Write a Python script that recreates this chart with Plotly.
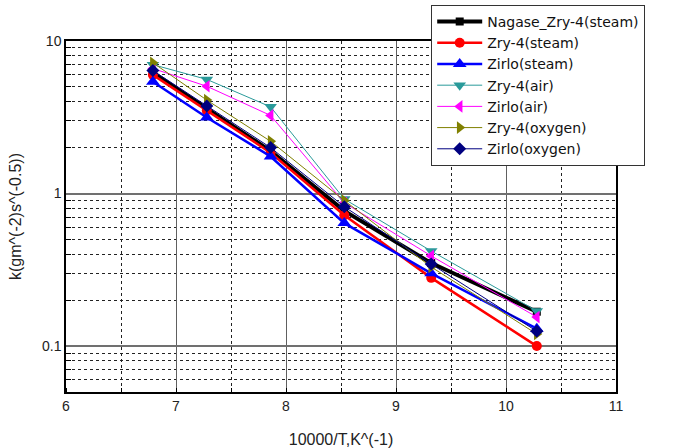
import plotly.graph_objects as go

# 10000/T values
x_vals = [6.79, 7.28, 7.86, 8.53, 9.32, 10.28]

nagase_zry4_steam = [6.2, 3.6, 1.9, 0.77, 0.35, 0.168]
zry4_steam = [6.0, 3.5, 1.85, 0.72, 0.28, 0.10]
zirlo_steam = [5.4, 3.15, 1.75, 0.64, 0.30, 0.13]
zry4_air = [7.0, 5.6, 3.7, 0.92, 0.42, 0.17]
zirlo_air = [6.6, 5.05, 3.25, 0.87, 0.39, 0.155]
zry4_oxygen = [7.2, 4.1, 2.2, 0.90, 0.33, 0.12]
zirlo_oxygen = [6.4, 3.75, 2.0, 0.82, 0.345, 0.125]

series_names = ["Nagase_Zry-4(steam)", "Zry-4(steam)", "Zirlo(steam)", "Zry-4(air)",
                "Zirlo(air)", "Zry-4(oxygen)", "Zirlo(oxygen)"]
series_vals = [nagase_zry4_steam, zry4_steam, zirlo_steam, zry4_air,
               zirlo_air, zry4_oxygen, zirlo_oxygen]
colors = ["#000000", "#FF0000", "#0000FF", "#2A9A9A", "#FF00FF", "#808000", "#000080"]
symbols = ["square", "circle", "triangle-up", "triangle-down", "triangle-left",
           "triangle-right", "diamond"]
widths = [4, 2.5, 2.5, 1, 1, 1, 1]
msizes = [8, 10, 12, 11, 11, 11, 10]

x_ticks = [6, 7, 8, 9, 10, 11]
y_ticks = [0.1, 1, 10]
y_tick_text = ["0.1", "1", "10"]
y_minor = [m * d for d in (0.01, 0.1, 1) for m in range(2, 10) if 0.05 <= m * d <= 10]

fig = go.Figure()
for name, vals, c, s, w, ms in zip(series_names, series_vals, colors, symbols, widths, msizes):
    fig.add_trace(go.Scatter(
        x=x_vals, y=vals, name=name, mode="lines+markers",
        line=dict(color=c, width=w),
        marker=dict(symbol=s, size=ms, color=c),
    ))

fig.update_layout(
    width=684, height=448,
    margin=dict(l=66, r=68, t=41, b=56, autoexpand=False),
    paper_bgcolor="white", plot_bgcolor="white",
    font=dict(family="Liberation Sans, Arial", color="#222222", size=14),
    legend=dict(
        x=0.664, y=1.1026, xanchor="left", yanchor="top",
        bgcolor="white", bordercolor="#333333", borderwidth=1,
        font=dict(size=14, color="#111111", family="DejaVu Sans"),
        itemwidth=45, tracegroupgap=0,
    ),
    xaxis=dict(
        range=[6, 11], tickvals=x_ticks, ticks="", showline=True, linecolor="black",
        linewidth=1.5, mirror=True, showgrid=True, gridcolor="#606060", gridwidth=1,
        zeroline=False, automargin=False,
        minor=dict(dtick=0.5, showgrid=True, griddash="dot", gridcolor="#222222",
                   gridwidth=1, ticks="inside", ticklen=4, tickcolor="black"),
        title=dict(text="10000/T,K^(-1)", font=dict(size=16), standoff=22),
    ),
    yaxis=dict(
        type="log", range=[-1.30103, 1], tickvals=y_ticks, ticktext=y_tick_text,
        ticks="", showline=True, linecolor="black", linewidth=1.5, mirror=True,
        showgrid=True, gridcolor="#707070", gridwidth=1.5, zeroline=False,
        automargin=False,
        minor=dict(tickvals=y_minor, showgrid=True, griddash="dot", gridcolor="#222222",
                   gridwidth=1, ticks="inside", ticklen=5, tickcolor="black"),
        title=dict(text="k(gm^(-2)s^(-0.5))", font=dict(size=16), standoff=16),
    ),
)

fig.write_html("out.html", config={"displayModeBar": False},
               post_script="document.body.style.margin='0px';")
